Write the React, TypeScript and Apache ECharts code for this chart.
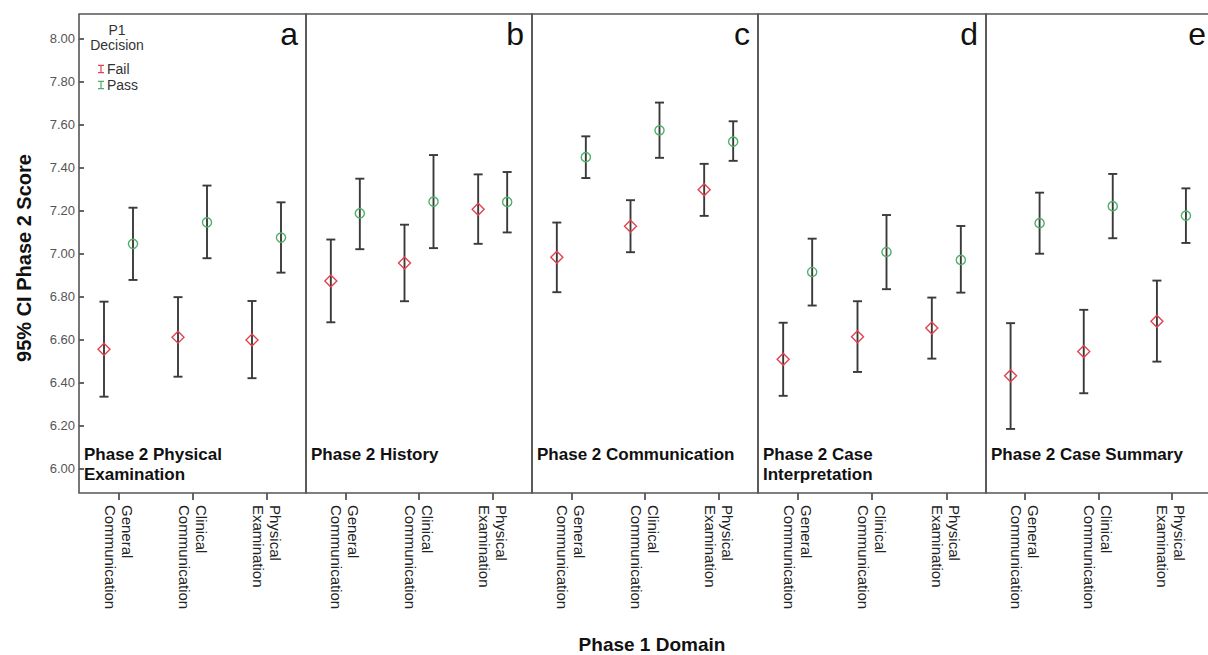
import React, { useEffect, useRef } from "react";
import * as echarts from "echarts";

// ---- data ----
const PHASE1_DOMAINS = ["General\nCommunication", "Clinical\nCommunication", "Physical\nExamination"];
const PHASE2_PANELS = [
  "Phase 2 Physical\nExamination",
  "Phase 2 History",
  "Phase 2 Communication",
  "Phase 2 Case\nInterpretation",
  "Phase 2 Case Summary",
];
const PANEL_LETTERS = ["a", "b", "c", "d", "e"];
const Y_TICKS = [6.0, 6.2, 6.4, 6.6, 6.8, 7.0, 7.2, 7.4, 7.6, 7.8, 8.0];
const SERIES_NAMES = ["Fail", "Pass"];

// Fail (P1 decision) – mean and 95% CI, one row per panel, one value per Phase 1 domain
const FAIL_MEAN = [
  [6.557, 6.613, 6.6],
  [6.874, 6.958, 7.208],
  [6.985, 7.129, 7.298],
  [6.51, 6.615, 6.656],
  [6.433, 6.546, 6.687],
];
const FAIL_LOW = [
  [6.336, 6.429, 6.422],
  [6.682, 6.78, 7.047],
  [6.822, 7.008, 7.177],
  [6.34, 6.451, 6.513],
  [6.186, 6.352, 6.499],
];
const FAIL_HIGH = [
  [6.778, 6.799, 6.781],
  [7.067, 7.136, 7.37],
  [7.146, 7.25, 7.419],
  [6.68, 6.78, 6.797],
  [6.678, 6.74, 6.876],
];
// Pass (P1 decision)
const PASS_MEAN = [
  [7.047, 7.147, 7.076],
  [7.189, 7.243, 7.242],
  [7.45, 7.575, 7.522],
  [6.916, 7.009, 6.972],
  [7.143, 7.222, 7.178],
];
const PASS_LOW = [
  [6.879, 6.98, 6.913],
  [7.022, 7.027, 7.1],
  [7.353, 7.447, 7.433],
  [6.76, 6.836, 6.82],
  [7.001, 7.073, 7.051],
];
const PASS_HIGH = [
  [7.215, 7.318, 7.24],
  [7.35, 7.46, 7.381],
  [7.547, 7.704, 7.617],
  [7.071, 7.181, 7.13],
  [7.285, 7.372, 7.305],
];

// ---- layout ----
const W = 1208;
const H = 655;
const EDGES = [79, 306, 532, 758, 986, 1214];
const TOP = 14;
const BOTTOM = 493;
const Y_MIN = 5.888;
const Y_MAX = 8.116;
const FAIL_COLOR = "#e2424f";
const PASS_COLOR = "#4db066";
const FONT = "Liberation Sans, Arial, sans-serif";

function makeRender(side: number) {
  return (params: any, api: any) => {
    const x = api.value(0);
    const m = api.value(1);
    const lo = api.value(2);
    const hi = api.value(3);
    const pm = api.coord([x, m]);
    const pl = api.coord([x, lo]);
    const ph = api.coord([x, hi]);
    const cx = pm[0] + side * 14.5;
    const color = api.visual("color");
    const barStyle = { stroke: "#3a3a3a", lineWidth: 1.9 };
    const children: any[] = [
      { type: "line", shape: { x1: cx, y1: pl[1], x2: cx, y2: ph[1] }, style: barStyle },
      { type: "line", shape: { x1: cx - 4.5, y1: pl[1], x2: cx + 4.5, y2: pl[1] }, style: barStyle },
      { type: "line", shape: { x1: cx - 4.5, y1: ph[1], x2: cx + 4.5, y2: ph[1] }, style: barStyle },
    ];
    if (side < 0) {
      children.push({
        type: "polygon",
        shape: {
          points: [
            [cx, pm[1] - 6],
            [cx + 6, pm[1]],
            [cx, pm[1] + 6],
            [cx - 6, pm[1]],
          ],
        },
        style: { fill: "none", stroke: color, lineWidth: 1.4 },
      });
    } else {
      children.push({
        type: "circle",
        shape: { cx, cy: pm[1], r: 4.6 },
        style: { fill: "none", stroke: color, lineWidth: 1.4 },
      });
    }
    return { type: "group", children };
  };
}

export default function App() {
  const ref = useRef<HTMLDivElement>(null);

  useEffect(() => {
    document.body.style.margin = "0";
    if (!ref.current) return;
    const chart = echarts.init(ref.current, null, { renderer: "svg" });

    const grids: any[] = [];
    const xAxes: any[] = [];
    const yAxes: any[] = [];
    const series: any[] = [];
    const graphics: any[] = [];

    PHASE2_PANELS.forEach((title, i) => {
      const l = EDGES[i];
      const r = EDGES[i + 1];
      grids.push({ left: l + 2.5, width: r - l - 5, top: TOP, height: BOTTOM - TOP });
      xAxes.push({
        type: "category",
        gridIndex: i,
        data: PHASE1_DOMAINS,
        boundaryGap: true,
        axisLine: { show: false },
        axisTick: { show: true, alignWithLabel: true, length: 7, lineStyle: { color: "#333", width: 1.5 } },
        axisLabel: {
          interval: 0,
          rotate: -90,
          margin: 12,
          fontSize: 15,
          lineHeight: 17,
          color: "#222",
          fontFamily: FONT,
        },
        splitLine: { show: false },
      });
      yAxes.push({
        type: "value",
        gridIndex: i,
        min: Y_MIN,
        max: Y_MAX,
        show: i === 0,
        offset: i === 0 ? -2.5 : 0,
        axisLine: { show: false },
        axisTick: {
          show: true,
          length: 5,
          customValues: Y_TICKS,
          lineStyle: { color: "#333", width: 1.5 },
        },
        axisLabel: {
          customValues: Y_TICKS,
          formatter: (v: number) => v.toFixed(2),
          fontSize: 13,
          margin: 9,
          color: "#555",
          fontFamily: FONT,
        },
        splitLine: { show: false },
      });

      const failData = PHASE1_DOMAINS.map((_, j) => [j, FAIL_MEAN[i][j], FAIL_LOW[i][j], FAIL_HIGH[i][j]]);
      const passData = PHASE1_DOMAINS.map((_, j) => [j, PASS_MEAN[i][j], PASS_LOW[i][j], PASS_HIGH[i][j]]);
      series.push({
        type: "custom",
        name: SERIES_NAMES[0],
        xAxisIndex: i,
        yAxisIndex: i,
        itemStyle: { color: FAIL_COLOR },
        renderItem: makeRender(-1),
        encode: { x: 0, y: [1, 2, 3] },
        data: failData,
        z: 3,
      });
      series.push({
        type: "custom",
        name: SERIES_NAMES[1],
        xAxisIndex: i,
        yAxisIndex: i,
        itemStyle: { color: PASS_COLOR },
        renderItem: makeRender(1),
        encode: { x: 0, y: [1, 2, 3] },
        data: passData,
        z: 3,
      });

      graphics.push({
        type: "rect",
        shape: { x: l, y: TOP, width: r - l, height: BOTTOM - TOP },
        style: { fill: "none", stroke: "#555", lineWidth: 1.6 },
        z: 1,
      });
      graphics.push({
        type: "text",
        x: l + 5,
        y: 444,
        style: {
          text: title,
          fontSize: 17,
          fontWeight: "bold",
          fontFamily: FONT,
          lineHeight: 20,
          fill: "#111",
          textAlign: "left",
          textVerticalAlign: "top",
        },
        z: 2,
      });
      graphics.push({
        type: "text",
        x: r - 8,
        y: 34,
        style: {
          text: PANEL_LETTERS[i],
          fontSize: 32,
          fontFamily: FONT,
          fill: "#111",
          textAlign: "right",
          textVerticalAlign: "middle",
        },
        z: 2,
      });
    });

    graphics.push({
      type: "text",
      x: 117,
      y: 22,
      style: {
        text: "P1\nDecision",
        fontSize: 14,
        lineHeight: 15,
        fontFamily: FONT,
        fill: "#333",
        textAlign: "center",
        textVerticalAlign: "top",
      },
      z: 2,
    });
    graphics.push({
      type: "text",
      x: 24,
      y: 258,
      rotation: Math.PI / 2,
      style: {
        text: "95% CI Phase 2 Score",
        fontSize: 20,
        fontWeight: "bold",
        fontFamily: FONT,
        fill: "#111",
        textAlign: "center",
        textVerticalAlign: "middle",
      },
    });
    graphics.push({
      type: "text",
      x: 652,
      y: 644,
      style: {
        text: "Phase 1 Domain",
        fontSize: 19,
        fontWeight: "bold",
        fontFamily: FONT,
        fill: "#111",
        textAlign: "center",
        textVerticalAlign: "middle",
      },
    });

    chart.setOption({
      animation: false,
      backgroundColor: "#ffffff",
      grid: grids,
      xAxis: xAxes,
      yAxis: yAxes,
      series,
      graphic: graphics,
      legend: {
        data: SERIES_NAMES,
        orient: "vertical",
        left: 98,
        top: 62,
        padding: 0,
        itemWidth: 6,
        itemHeight: 10,
        itemGap: 2,
        icon: "path://M0,0H7V1.5H4.2V8.5H7V10H0V8.5H2.8V1.5H0Z",
        textStyle: { fontSize: 14, lineHeight: 14, color: "#333", fontFamily: FONT, padding: [0, 0, 0, -2] },
        selectedMode: false,
      },
    });

    return () => chart.dispose();
  }, []);

  return <div ref={ref} style={{ width: W, height: H }} />;
}
